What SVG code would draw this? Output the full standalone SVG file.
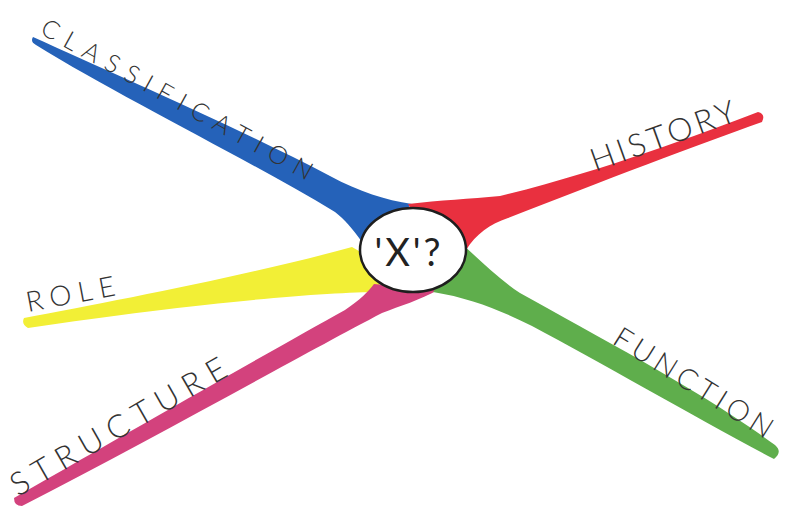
<svg xmlns="http://www.w3.org/2000/svg" width="788" height="508" viewBox="0 0 788 508">
<style>
.lbl{font-family:"Lato","Liberation Sans",sans-serif;font-weight:300;fill:#333333;}
.br{stroke:none;}
</style>
<rect width="788" height="508" fill="#ffffff"/>
<g id="connectors">
  <path class="br" fill="#2562b9" d="M33 37 C110 72 230 124 330 176 C360 192 385 200 412 204 L385 228 L362 242 C352 228 345 220 335 212 C240 155 120 97 36 45 Q30 42 33 37 Z"/>
  <path class="br" fill="#e9303f" d="M408 204 C440 200 470 199 500 196 C600 172 700 134 758 112 Q766 114 762 122 C700 144 600 182 508 218 C490 224 476 234 466 250 L425 235 Z"/>
  <path class="br" fill="#f2ef36" d="M24 318 C110 302 250 275 352 247 L378 262 L380 292 C320 292 180 305 28 328 Q21 324 24 318 Z"/>
  <path class="br" fill="#d3427d" d="M14 498 C150 420 280 346 345 310 C360 300 368 292 374 284 L438 290 C420 300 400 306 382 313 C300 356 150 440 22 506 Q14 506 14 498 Z"/>
  <path class="br" fill="#5fae4c" d="M464 246 C480 260 500 280 520 293 C600 338 700 390 775 445 Q783 452 774 459 C700 420 600 362 532 326 C500 310 470 298 433 292 L452 268 Z"/>
</g>
<g id="node-center">
  <ellipse cx="413" cy="250" rx="53" ry="42" fill="#ffffff" stroke="#1e1e1e" stroke-width="2.5"/>
  <text x="409" y="266" text-anchor="middle" font-family="Lato, 'Liberation Sans', sans-serif" font-size="38" fill="#222" letter-spacing="3">'X'?</text>
</g>
<g id="node-classification">
  <text class="lbl" transform="translate(39 33) rotate(28.9)" font-size="25" textLength="306" lengthAdjust="spacing">CLASSIFICATION</text>
</g>
<g id="node-history">
  <text class="lbl" transform="translate(595 172) rotate(-19.7)" font-size="32" textLength="152" lengthAdjust="spacing">HISTORY</text>
</g>
<g id="node-role">
  <text class="lbl" transform="translate(28 312) rotate(-10.7)" font-size="28" textLength="90" lengthAdjust="spacing">ROLE</text>
</g>
<g id="node-structure">
  <text class="lbl" transform="translate(18 497) rotate(-29.9)" font-size="32" textLength="244" lengthAdjust="spacing">STRUCTURE</text>
</g>
<g id="node-function">
  <text class="lbl" transform="translate(611 343) rotate(32)" font-size="29" textLength="182" lengthAdjust="spacing">FUNCTION</text>
</g>
</svg>
